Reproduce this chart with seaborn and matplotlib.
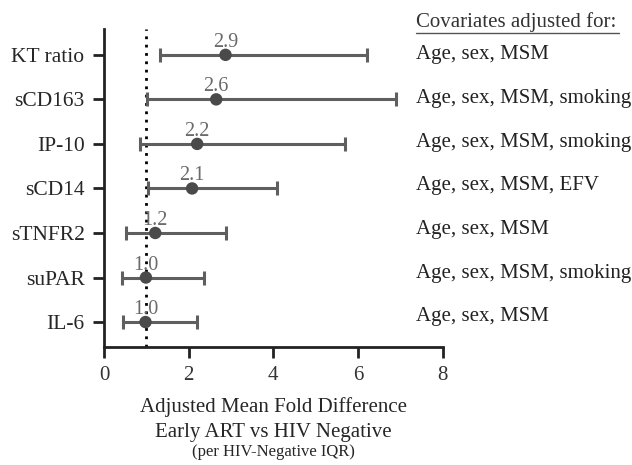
import matplotlib
matplotlib.use("Agg")
import matplotlib.pyplot as plt
import seaborn as sns
import pandas as pd

# -------------------------
# DATA
# -------------------------
markers = ['KT ratio', 'sCD163', 'IP-10', 'sCD14', 'sTNFR2', 'suPAR', 'IL-6']
fold_diff = [2.87, 2.65, 2.2, 2.08, 1.21, 0.99, 0.98]
ci_low = [1.33, 1.01, 0.84, 1.03, 0.51, 0.42, 0.44]
ci_high = [6.22, 6.89, 5.70, 4.08, 2.89, 2.35, 2.19]
value_labels = ['2.9', '2.6', '2.2', '2.1', '1.2', '1.0', '1.0']
covariates = ['Age, sex, MSM', 'Age, sex, MSM, smoking', 'Age, sex, MSM, smoking',
              'Age, sex, MSM, EFV', 'Age, sex, MSM', 'Age, sex, MSM, smoking',
              'Age, sex, MSM']

df = pd.DataFrame({'marker': markers, 'fd': fold_diff, 'lo': ci_low, 'hi': ci_high})

# -------------------------
# STYLE
# -------------------------
sns.set_style("ticks")
plt.rcParams['font.family'] = ['Liberation Serif', 'DejaVu Serif']

fig = plt.figure(figsize=(6.32, 4.65), dpi=100)
ax = fig.add_axes([0.1646, 0.2538, 0.5359, 0.6838])

line_col = '#5f5f5f'
ypos = list(range(len(markers)))

# reference line at 1 (no difference)
ax.axvline(1, color='black', linestyle=(0, (1, 2)), linewidth=2, zorder=1)

# CI whiskers
ax.errorbar(df['fd'], ypos,
            xerr=[df['fd'] - df['lo'], df['hi'] - df['fd']],
            fmt='none', ecolor=line_col, elinewidth=2.2, capsize=5, capthick=2.2, zorder=2)

# points
sns.scatterplot(x=df['fd'], y=ypos, ax=ax, color='#4a4a4a', s=80,
                edgecolor='none', zorder=3, legend=False)

for i, (v, lab) in enumerate(zip(fold_diff, value_labels)):
    ax.text(v, i - 0.28, lab, ha='center', va='center', fontsize=14.5, color='#6a6a6a')

ax.set_xlim(0, 8)
ax.set_ylim(6.56, -0.58)
ax.set_xticks([0, 2, 4, 6, 8])
ax.set_yticks(ypos)
ax.set_yticklabels(markers, fontsize=15.5)
ax.tick_params(axis='x', labelsize=15)
ax.tick_params(axis='both', width=2, length=8, color='#222222', pad=6)
ax.tick_params(axis='x', labelcolor='#333333')
ax.set_xlabel('')
ax.set_ylabel('')
sns.despine(ax=ax)
for sp in ['left', 'bottom']:
    ax.spines[sp].set_linewidth(2)
    ax.spines[sp].set_color('#222222')

# x label, three lines
fig.text(0.432, 1 - 407 / 465, 'Adjusted Mean Fold Difference', ha='center', va='center', fontsize=15)
fig.text(0.432, 1 - 432 / 465, 'Early ART vs HIV Negative', ha='center', va='center', fontsize=15)
fig.text(0.432, 1 - 452 / 465, '(per HIV-Negative IQR)', ha='center', va='center', fontsize=12)

# covariates column
col_x = 416 / 632
fig.text(col_x, 1 - 22 / 465, 'Covariates adjusted for:', ha='left', va='center',
         fontsize=15, color='#333333')
fig.add_artist(plt.Line2D([col_x, 619 / 632], [1 - 33 / 465, 1 - 33 / 465],
                          color='#555555', linewidth=1))
xform = ax.get_yaxis_transform()
for i, c in enumerate(covariates):
    ax.text(1.0 + (416 - 442.7) / 338.7, i - 0.02 * i, c, transform=xform,
            ha='left', va='center', fontsize=15, color='#222222')

fig.savefig('out.png', dpi=100)
